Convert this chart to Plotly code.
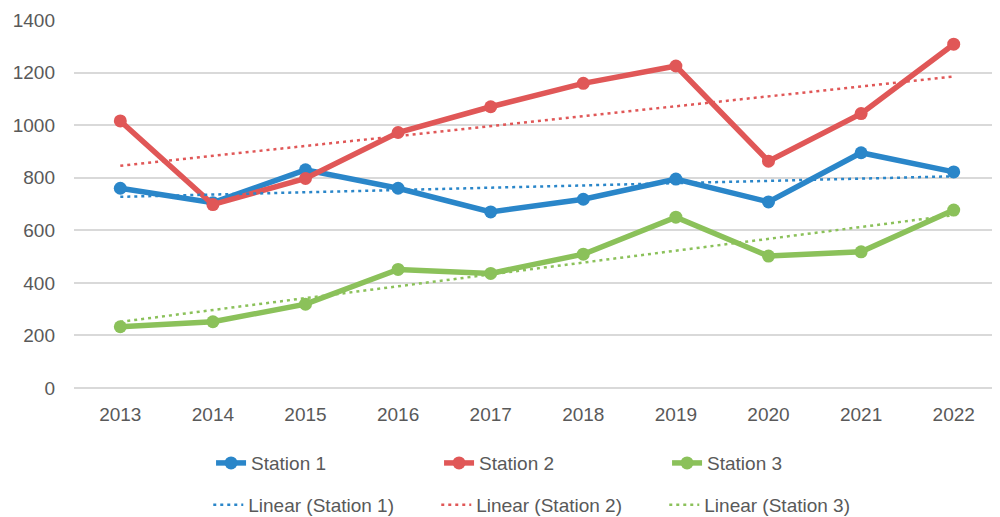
import numpy as np
import plotly.graph_objects as go

years = ["2013", "2014", "2015", "2016", "2017", "2018", "2019", "2020", "2021", "2022"]
station1 = [760, 705, 830, 760, 670, 718, 795, 708, 895, 822]
station2 = [1016, 698, 797, 972, 1070, 1159, 1225, 863, 1044, 1308]
station3 = [233, 252, 319, 451, 436, 509, 650, 502, 518, 677]

names = ["Station 1", "Station 2", "Station 3"]
colors = ["#2A86C9", "#E05757", "#8BC15A"]
series = [station1, station2, station3]

FONT = "Liberation Sans"
GREY = "#595959"

fig = go.Figure()

for name, vals, col in zip(names, series, colors):
    fig.add_trace(go.Scatter(
        x=years, y=vals, name=name, mode="lines+markers",
        line=dict(color=col, width=5.5),
        marker=dict(color=col, size=13),
        legend="legend",
    ))

# linear trendlines, like Excel's "Linear (...)"
idx = np.arange(len(years))
for name, vals, col in zip(names, series, colors):
    slope, icpt = np.polyfit(idx, vals, 1)
    fig.add_trace(go.Scatter(
        x=years, y=slope * idx + icpt, name=f"Linear ({name})", mode="lines",
        line=dict(color=col, width=2.5, dash="3px,4px"),
        legend="legend2",
    ))

leg = dict(orientation="h", xanchor="left", yanchor="middle",
           entrywidth=183, font=dict(family=FONT, size=19, color=GREY),
           bgcolor="rgba(0,0,0,0)")

# page body has an 8px margin, so the figure is a bit smaller than the window
fig.update_layout(
    width=992, height=509,
    margin=dict(l=66, r=0, t=12, b=129, autoexpand=False),
    paper_bgcolor="white", plot_bgcolor="white",
    font=dict(family=FONT, size=19, color=GREY),
    showlegend=True,
    legend=dict(leg, x=0.148, y=-0.204),
    legend2=dict(leg, x=0.145, y=-0.318),
    xaxis=dict(
        type="category", range=[-0.5, 9.5],
        showgrid=False, showline=False, zeroline=False,
        ticks="", ticklabelstandoff=13,
        tickfont=dict(family=FONT, size=19, color=GREY),
    ),
    yaxis=dict(
        range=[0, 1400], dtick=200,
        showgrid=True, gridcolor="#D9D9D9", gridwidth=1.5,
        zeroline=True, zerolinecolor="#D9D9D9", zerolinewidth=1.5,
        showline=False, ticks="", ticklabelstandoff=18,
        tickfont=dict(family=FONT, size=19, color=GREY),
    ),
)

fig.write_html("out.html")
